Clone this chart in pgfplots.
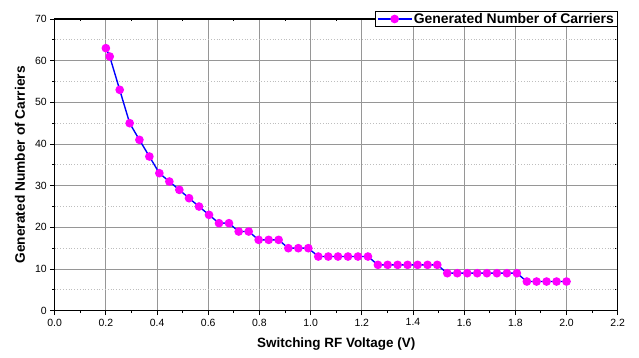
\documentclass[border=0pt]{standalone}
\usepackage{fontspec}
\setmainfont{Liberation Sans}
\usepackage{pgfplots}
\pgfplotsset{compat=1.18}
\definecolor{gridgray}{RGB}{150,150,150}
\definecolor{minorgray}{RGB}{190,190,190}
\definecolor{mkmag}{RGB}{255,0,255}
\begin{document}
\begin{tikzpicture}
\pgfplotsset{
  common/.style={
    scale only axis, width=563bp, height=291.7bp,
    xmin=0, xmax=2.2, ymin=0, ymax=70,
    xtick={0,0.2,...,2.2}, ytick={0,10,...,70},
    minor x tick num=1, minor y tick num=1,
    axis line style={line width=1.1bp, black},
    major tick length=4.5bp, minor tick length=2.5bp,
    every tick/.style={black, line width=0.9bp},
  }
}
% overlay axis for inward ticks on top/right
\begin{axis}[common,
  xtick pos=right, ytick pos=right, tick align=inside,
  xticklabels={}, yticklabels={}]
\end{axis}
\begin{axis}[common,
  xtick pos=left, ytick pos=left, tick align=outside,
  /pgf/number format/assume math mode=true,
  xticklabel style={font=\fontsize{10.5}{12}\selectfont, /pgf/number format/.cd, fixed, fixed zerofill, precision=1},
  yticklabel style={font=\fontsize{10.5}{12}\selectfont},
  xmajorgrids, ymajorgrids, yminorgrids,
  major grid style={gridgray, line width=0.9bp},
  minor grid style={minorgray, line width=0.8bp, dotted},
  xlabel={Switching RF Voltage (V)},
  ylabel={Generated Number of Carriers},
  xlabel style={font=\bfseries\fontsize{13.5}{16}\selectfont, at={(axis description cs:0.5,0)}, anchor=center, yshift=-33bp},
  ylabel style={font=\bfseries\fontsize{13.8}{16}\selectfont, at={(axis description cs:0,0.5)}, anchor=center, yshift=34.7bp},
  legend style={at={(rel axis cs:1,1)}, anchor=east, draw=black, line width=0.8bp, fill=white,
    font=\bfseries\fontsize{14}{16}\selectfont, inner xsep=2pt, inner ysep=0.5pt,
    nodes={inner sep=1.5pt}},
  legend image code/.code={\draw[mark repeat=2,mark phase=2,#1] plot coordinates {(0cm,0cm) (0.6cm,0cm) (1.2cm,0cm)};},
]
\addplot[blue, line width=1.4bp, mark=*, mark size=3.6bp,
  mark options={fill=mkmag, draw=mkmag, solid}] coordinates {
(0.200,63) (0.215,61) (0.254,53) (0.293,45) (0.331,41) (0.370,37)
(0.409,33) (0.448,31) (0.487,29) (0.525,27) (0.564,25) (0.603,23)
(0.642,21) (0.681,21) (0.719,19) (0.758,19) (0.797,17) (0.836,17)
(0.875,17) (0.913,15) (0.952,15) (0.991,15) (1.030,13) (1.069,13)
(1.107,13) (1.146,13) (1.185,13) (1.224,13) (1.263,11) (1.301,11)
(1.340,11) (1.379,11) (1.418,11) (1.457,11) (1.495,11) (1.534,9)
(1.573,9) (1.612,9) (1.651,9) (1.689,9) (1.728,9) (1.767,9)
(1.806,9) (1.845,7) (1.883,7) (1.922,7) (1.961,7) (2.000,7)
};
\addlegendentry{Generated Number of Carriers}
\end{axis}
\pgfresetboundingbox
\useasboundingbox (-54.7bp,-47.3bp) rectangle (584.3bp,310.7bp);
\end{tikzpicture}
\end{document}
